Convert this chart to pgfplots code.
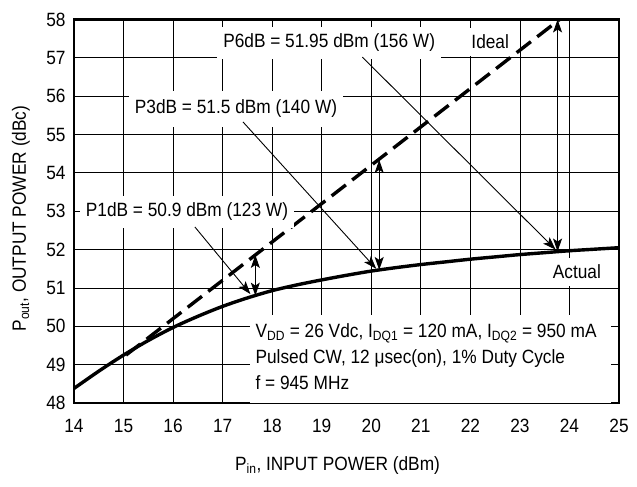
\documentclass[border=0pt]{standalone}
\usepackage{fontspec}
\setmainfont{Liberation Sans}[FakeStretch=0.9]
\usepackage{pgfplots}
\pgfplotsset{compat=1.18}
\usetikzlibrary{arrows.meta}
\pgfplotsset{layers/mylayers/.define layer set={axis background,axis grid,pre main,main,axis ticks,axis lines,axis tick labels,axis descriptions,axis foreground}{}}
\newcommand\lf{\fontsize{19.2bp}{27bp}\selectfont}
\begin{document}
\begin{tikzpicture}[font=\lf,
  lbl/.style={fill=white, inner xsep=6bp, inner ysep=7bp, font=\lf},
  arr/.style={line width=0.9bp, -{Stealth[length=13bp,width=9bp,inset=3bp]}},
  darr/.style={line width=0.9bp, {Stealth[length=13bp,width=9bp,inset=3bp]}-{Stealth[length=13bp,width=9bp,inset=3bp]}}]
\begin{axis}[
  set layers=mylayers,
  scale only axis, width=545bp, height=383.5bp,
  xmin=14, xmax=25, ymin=48, ymax=58,
  xtick={14,...,25}, ytick={48,...,58},
  grid=major, grid style={black, line width=0.8bp},
  axis line style={black, line width=2.4bp},
  tick align=inside, major tick length=7bp,
  tick style={black, line width=0.8bp},
  /pgf/number format/assume math mode=true,
  ticklabel style={font=\lf},
  yticklabel style={xshift=-5bp},
  xticklabel style={yshift=-13bp},
  xlabel={P\textsubscript{in}, INPUT POWER (dBm)},
  ylabel={P\textsubscript{out}, OUTPUT POWER (dBc)},
  xlabel style={at={(axis description cs:0.4835,0)}, anchor=base, yshift=-67bp, font=\lf},
  ylabel style={at={(axis description cs:-0.0881,0.481)}, anchor=base, rotate=0, font=\lf},
  clip=false,
]
% white box behind the conditions text
\fill[white] (axis cs:17.55,48) rectangle (axis cs:24.83,50.29);

\addplot[black, line width=3.4bp, smooth] coordinates {
(14,48.38) (14.5,48.83) (15,49.25) (15.5,49.63) (16,49.97) (16.5,50.26)
(17,50.52) (17.5,50.74) (18,50.93) (18.5,51.08) (19,51.21) (19.5,51.33)
(20,51.44) (20.5,51.53) (21,51.61) (21.5,51.68) (22,51.75) (22.5,51.81)
(23,51.87) (23.5,51.92) (24,51.97) (24.5,52.01) (25,52.05)};

\addplot[black, line width=3.4bp, dash pattern=on 18bp off 8bp] coordinates {
(15.05,49.25) (23.8,58.0)};

% double arrows (compression)
\draw[darr] (axis cs:17.66,50.80) -- (axis cs:17.66,51.86);
\draw[darr] (axis cs:20.16,51.47) -- (axis cs:20.16,54.34);
\draw[darr] (axis cs:23.76,51.95) -- (axis cs:23.76,58.0);

% labels with pointer arrows
\node[lbl] at (axis cs:16.28,52.98) {P1dB = 50.9 dBm (123 W)};
\draw[arr] (axis cs:16.44,52.59) -- (axis cs:17.56,50.84);
\node[lbl, inner ysep=9bp] at (axis cs:17.27,55.67) {P3dB = 51.5 dBm (140 W)};
\draw[arr] (axis cs:17.41,55.33) -- (axis cs:20.1,51.50);
\node[lbl] at (axis cs:19.15,57.39) {P6dB = 51.95 dBm (156 W)};
\draw[arr] (axis cs:19.82,57.02) -- (axis cs:23.72,52.0);

\node[lbl] at (axis cs:22.40,57.41) {Ideal};
\node[lbl] at (axis cs:24.15,51.42) {Actual};

\node[anchor=base west, inner sep=0pt] at (axis cs:17.66,49.72) {V\textsubscript{DD} = 26 Vdc, I\textsubscript{DQ1} = 120 mA, I\textsubscript{DQ2} = 950 mA};
\node[anchor=base west, inner sep=0pt] at (axis cs:17.66,49.04) {Pulsed CW, 12 μsec(on), 1\% Duty Cycle};
\node[anchor=base west, inner sep=0pt] at (axis cs:17.66,48.34) {f = 945 MHz};
\end{axis}
\pgfresetboundingbox
\path[use as bounding box] ([shift={(-74bp,-84bp)}]current axis.south west) rectangle ([shift={(18bp,19.5bp)}]current axis.north east);
\end{tikzpicture}
\end{document}
